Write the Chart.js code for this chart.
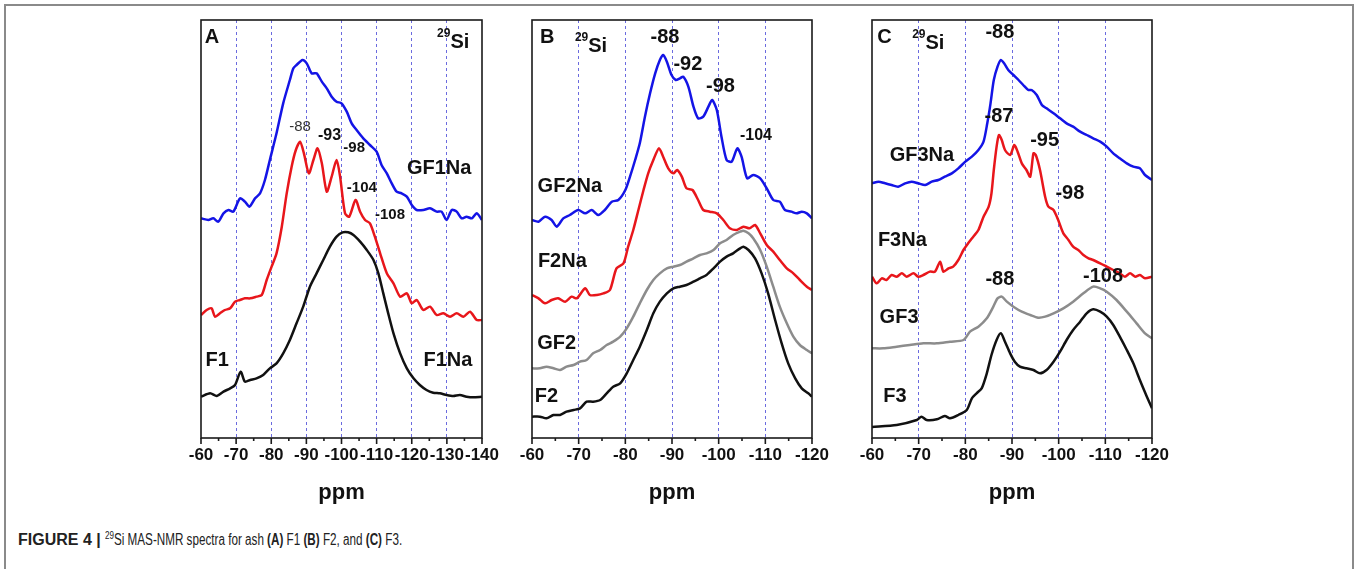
<!DOCTYPE html>
<html>
<head>
<meta charset="utf-8">
<script src="https://cdn.jsdelivr.net/npm/chart.js@4.4.0/dist/chart.umd.min.js"></script>
<style>
  body { margin: 0; background: #fff; width: 1359px; height: 569px; overflow: hidden; position: relative; font-family: "Liberation Sans", Arial, sans-serif; }
  .frame { position: absolute; left: 4px; top: 4px; width: 1346px; height: 620px; border: 2px solid #8a8a8a; }
  canvas { position: absolute; top: 0; }
  #chartA { left: 171px; }
  #chartB { left: 502px; }
  #chartC { left: 842px; }
  .caption { position: absolute; left: 18px; top: 531px; font-size: 16px; color: #222; white-space: nowrap; }
  .caption b { font-weight: bold; }
  .caption .rest { display: inline-block; transform: scaleX(0.73); transform-origin: left center; }
  .caption sup { font-size: 11px; vertical-align: 6px; line-height: 0; }
</style>
</head>
<body>
<div class="frame"></div>
<canvas id="chartA" width="341" height="520"></canvas>
<canvas id="chartB" width="340" height="520"></canvas>
<canvas id="chartC" width="340" height="520"></canvas>
<div class="caption"><b>FIGURE 4 |</b> <span class="rest"><sup>29</sup>Si MAS-NMR spectra for ash <b>(A)</b> F1 <b>(B)</b> F2, and <b>(C)</b> F3.</span></div>

<script>
// spectra: [ppm, intensity (a.u., curves stacked with offsets)]
const A_GF1Na = [[-60,659],[-62.1,654],[-63.5,659],[-64.9,649],[-66.4,674],[-67.8,684],[-69.2,679],[-71.1,719],[-72.5,709],[-73.8,694],[-75.4,719],[-76.8,734],[-78.2,774],[-79.6,834],[-81.5,914],[-83.4,1004],[-85.3,1074],[-86.3,1109],[-87.2,1119],[-88.9,1134],[-90.1,1124],[-91.5,1094],[-92.9,1094],[-94.4,1069],[-95.8,1049],[-97.2,1024],[-98.6,1009],[-100,1004],[-101.5,979],[-102.9,944],[-104.3,924],[-106.2,899],[-108.1,879],[-110,859],[-111.4,819],[-112.9,794],[-114.3,764],[-115.7,739],[-117.1,734],[-118.6,724],[-120,699],[-121.4,684],[-123.3,684],[-125.2,689],[-127.1,679],[-128.5,679],[-129.9,654],[-131.4,684],[-132.8,679],[-134.2,659],[-135.6,664],[-137.1,659],[-138.5,674],[-140,654]];
const A_F1Na = [[-60,369],[-61.6,384],[-63,389],[-64,364],[-65.4,374],[-66.8,384],[-68.3,389],[-69.7,409],[-71.1,414],[-72.5,419],[-74,419],[-75.8,424],[-77.3,429],[-78.7,474],[-80.1,514],[-81.5,554],[-83,634],[-84.4,734],[-85.8,814],[-87,864],[-88.2,889],[-89.3,854],[-90.7,794],[-92,834],[-93.2,869],[-94.4,824],[-95.8,739],[-97.2,784],[-98.6,834],[-99.6,784],[-101,674],[-102.2,664],[-104,714],[-105.3,679],[-106.7,654],[-108.1,644],[-109.5,604],[-111,554],[-112.9,494],[-114.8,464],[-116.7,424],[-118.6,434],[-120,404],[-121.4,414],[-123.3,384],[-125.2,394],[-127.1,369],[-129,374],[-130.9,364],[-132.8,374],[-134.7,364],[-136.6,379],[-138.5,354],[-140,354]];
const A_F1 = [[-60,124],[-62.6,134],[-64.5,126],[-66.4,139],[-68.3,149],[-69.7,159],[-71.3,199],[-72.5,169],[-74,174],[-75.8,179],[-77.7,189],[-79.6,209],[-81.5,224],[-83.4,254],[-85.3,294],[-87.2,344],[-89.1,394],[-91,454],[-92.9,494],[-94.8,534],[-96.7,574],[-98.6,604],[-100.3,617],[-101.9,617],[-103.4,609],[-105.3,589],[-107.2,564],[-109.1,534],[-110.5,494],[-111.9,434],[-113.3,374],[-114.8,314],[-116.7,254],[-118.6,209],[-120.5,179],[-122.3,159],[-124.2,144],[-126.1,136],[-128,134],[-129.9,129],[-131.8,126],[-133.7,129],[-135.6,124],[-137.5,122],[-140,124]];

const B_GF2Na = [[-60,654],[-61.4,649],[-62.8,664],[-64.2,654],[-65.3,634],[-66.7,659],[-68.1,669],[-69.9,684],[-71.4,674],[-72.8,684],[-74.2,669],[-75.6,684],[-77.1,709],[-78.5,714],[-80,744],[-81,784],[-82.1,834],[-83.1,884],[-84.2,964],[-85.3,1034],[-86.4,1094],[-87.4,1134],[-88.1,1149],[-88.9,1129],[-89.9,1089],[-90.8,1074],[-91.7,1079],[-92.4,1084],[-93.5,1054],[-94.6,994],[-95.6,959],[-96.7,964],[-97.8,994],[-98.6,1014],[-99.6,984],[-100.6,904],[-101.7,834],[-102.8,829],[-104,869],[-104.9,844],[-106.1,779],[-107.4,789],[-108.9,779],[-110.3,749],[-111.7,714],[-113.1,709],[-114.2,684],[-115.6,679],[-116.7,674],[-117.8,679],[-118.9,674],[-120,659]];
const B_F2Na = [[-60,429],[-61.4,419],[-62.8,404],[-64.2,414],[-65.6,419],[-67.1,409],[-68.5,424],[-69.6,419],[-71.4,449],[-72.4,429],[-73.9,429],[-75.3,434],[-76.7,444],[-78.1,509],[-79.6,524],[-80.6,574],[-81.7,624],[-82.8,684],[-83.9,744],[-84.9,794],[-86,834],[-87.2,869],[-88.1,844],[-89.2,809],[-90.3,794],[-91.1,804],[-92.1,784],[-93.1,749],[-94.4,744],[-95.6,714],[-96.7,684],[-98.1,679],[-99.6,674],[-101,654],[-102.4,629],[-103.9,624],[-105.3,634],[-106.6,629],[-107.8,639],[-108.9,614],[-110.3,579],[-111.7,559],[-113.1,534],[-114.6,509],[-116,494],[-117.4,474],[-118.9,454],[-120,444]];
const B_GF2 = [[-60,209],[-61.7,209],[-63.1,214],[-64.6,209],[-66,204],[-67.4,214],[-68.9,219],[-70.3,229],[-71.7,234],[-73.1,254],[-74.6,264],[-76,279],[-77.4,289],[-78.9,304],[-80.3,329],[-81.7,364],[-83.1,404],[-84.6,444],[-86,474],[-87.4,494],[-88.9,509],[-90.3,514],[-91.7,519],[-93.1,529],[-94.6,539],[-96,549],[-97.4,554],[-98.9,564],[-100.3,584],[-101.7,594],[-103.1,609],[-104.6,619],[-105.3,622],[-106.4,614],[-107.4,599],[-108.9,564],[-110.3,514],[-111.7,454],[-113.1,394],[-114.6,344],[-116,304],[-117.4,279],[-118.9,264],[-120,254]];
const B_F2 = [[-60,64],[-61.7,64],[-63.1,59],[-64.6,69],[-66,69],[-67.4,79],[-68.9,84],[-70.3,89],[-71.7,109],[-73.1,109],[-74.6,114],[-76,134],[-77.4,154],[-78.9,164],[-80.3,194],[-81.7,234],[-83.1,274],[-84.6,324],[-86,374],[-87.4,409],[-88.9,434],[-90.3,449],[-91.7,454],[-93.1,459],[-94.6,469],[-96,479],[-97.4,489],[-98.9,509],[-100.3,529],[-101.7,544],[-103.1,554],[-104.6,569],[-105.3,574],[-106.4,564],[-107.8,539],[-109.2,494],[-110.6,434],[-112.1,354],[-113.5,284],[-114.9,224],[-116.4,179],[-117.8,149],[-119.2,134],[-120,124]];

const C_GF3Na = [[-60,764],[-61.4,769],[-62.8,764],[-64.2,759],[-65.6,754],[-67.1,764],[-68.5,769],[-69.9,764],[-71.4,759],[-72.8,769],[-74.2,774],[-75.6,784],[-77.1,794],[-78.5,809],[-80,829],[-81.4,844],[-82.8,864],[-83.9,889],[-84.7,944],[-85.4,1004],[-86.1,1074],[-86.9,1114],[-87.6,1134],[-88.3,1124],[-89.2,1104],[-90.3,1089],[-91.4,1074],[-92.4,1059],[-93.5,1044],[-94.2,1044],[-95.3,1029],[-96.4,999],[-97.4,989],[-98.9,974],[-100.3,959],[-101.7,944],[-103.1,934],[-104.6,919],[-106,909],[-107.4,899],[-108.9,889],[-110.3,874],[-111.7,854],[-113.1,839],[-114.6,824],[-116,814],[-117.4,809],[-118.5,789],[-120,774]];
const C_F3Na = [[-60,484],[-61,464],[-62.1,479],[-63.1,474],[-64.2,489],[-65.3,484],[-66.4,494],[-67.4,484],[-68.9,494],[-69.9,484],[-71,489],[-72.4,499],[-73.5,499],[-74.6,529],[-75.3,499],[-76.4,509],[-77.4,514],[-78.5,534],[-79.6,564],[-80.6,584],[-81.7,604],[-82.8,624],[-83.9,664],[-85,694],[-85.6,734],[-86.1,804],[-86.7,874],[-87.2,909],[-87.8,894],[-88.5,864],[-89.6,849],[-90.5,879],[-91.2,859],[-92.1,824],[-93.1,804],[-93.9,784],[-94.6,854],[-95.1,849],[-96,804],[-97.1,724],[-97.8,694],[-98.9,684],[-99.9,654],[-101,614],[-102.1,594],[-103.1,574],[-104.2,564],[-105.3,549],[-106.4,539],[-107.4,534],[-108.9,524],[-110.3,514],[-111.7,504],[-113.1,494],[-114.2,484],[-115.3,494],[-116.4,484],[-117.4,489],[-118.5,479],[-120,484]];
const C_GF3 = [[-60,269],[-62.4,269],[-65.3,274],[-68.1,279],[-71,284],[-73.9,284],[-76.7,289],[-79.6,294],[-81,319],[-82.8,334],[-84.6,359],[-86,394],[-86.9,419],[-87.8,424],[-88.9,409],[-90.3,394],[-92.1,379],[-93.9,369],[-95.6,361],[-97.1,364],[-98.9,374],[-101,389],[-103.1,409],[-105.3,434],[-107.4,454],[-108.9,449],[-110.3,439],[-112.4,414],[-114.6,379],[-116.7,344],[-118.5,314],[-120,299]];
const C_F3 = [[-60,33],[-65.3,39],[-69.6,54],[-70.6,64],[-71.7,54],[-73.9,56],[-75.6,66],[-76.7,59],[-78.5,69],[-80.3,84],[-81.4,119],[-82.4,134],[-83.5,149],[-84.6,194],[-85.6,249],[-86.7,294],[-87.6,314],[-88.5,289],[-89.6,254],[-90.6,229],[-91.7,214],[-93.1,209],[-94.6,204],[-96,194],[-97.4,204],[-98.9,229],[-100.3,259],[-101.7,294],[-103.1,324],[-104.6,349],[-106,374],[-107.4,386],[-108.9,379],[-110.3,364],[-111.7,339],[-113.1,304],[-114.6,264],[-116,224],[-117.4,174],[-118.9,124],[-120,89]];

// axis ranges (ppm)
const A_range = [-140, -60];
const B_range = [-120, -60];
const C_range = [-120, -60];

const FONT = '"Liberation Sans", Arial, sans-serif';
Chart.defaults.font.family = FONT;

const BLUE = '#1414e6', RED = '#e8161b', GRAY = '#8c8c8c', BLACK = '#111';

// text drawn inside the plot boxes, placed in data coordinates
const A_text = [
  {text: 'A', x: -61.1, y: 1203, size: 20, align: 'left'},
  {text: 'Si', sup: '29', x: -127.2, y: 1188, size: 20, align: 'left'},
  {text: 'GF1Na', x: -127.8, y: 810, size: 20},
  {text: 'F1Na', x: -130.3, y: 234, size: 20},
  {text: 'F1', x: -64.6, y: 234, size: 20},
  {text: '-88', x: -88.2, y: 934, size: 15, bold: false, color: '#333'},
  {text: '-93', x: -96.6, y: 907, size: 16},
  {text: '-98', x: -103.6, y: 870, size: 15},
  {text: '-104', x: -105.8, y: 750, size: 15},
  {text: '-108', x: -113.8, y: 669, size: 15}
];
const B_text = [
  {text: 'B', x: -61.7, y: 1203, size: 20, align: 'left'},
  {text: 'Si', sup: '29', x: -69.2, y: 1176, size: 20, align: 'left'},
  {text: '-88', x: -88.5, y: 1202, size: 20},
  {text: '-92', x: -93.4, y: 1121, size: 20},
  {text: '-98', x: -100.4, y: 1056, size: 20},
  {text: '-104', x: -108, y: 907, size: 16},
  {text: 'GF2Na', x: -68.1, y: 754, size: 20},
  {text: 'F2Na', x: -66.5, y: 529, size: 20},
  {text: 'GF2', x: -65.3, y: 285, size: 20},
  {text: 'F2', x: -63.1, y: 126, size: 20}
];
const C_text = [
  {text: 'C', x: -61.1, y: 1203, size: 20, align: 'left'},
  {text: 'Si', sup: '29', x: -68.6, y: 1185, size: 20, align: 'left'},
  {text: '-88', x: -87.4, y: 1216, size: 20},
  {text: '-87', x: -87.2, y: 964, size: 20},
  {text: '-95', x: -97, y: 894, size: 20},
  {text: '-98', x: -102.4, y: 735, size: 20},
  {text: '-88', x: -87.4, y: 477, size: 20},
  {text: '-108', x: -109.5, y: 486, size: 20},
  {text: 'GF3Na', x: -70.7, y: 847, size: 20},
  {text: 'F3Na', x: -66.5, y: 594, size: 20},
  {text: 'GF3', x: -65.8, y: 361, size: 20},
  {text: 'F3', x: -64.9, y: 126, size: 20}
];

const panelDecor = {
  id: 'panelDecor',
  afterDatasetsDraw(chart, args, opts) {
    const {ctx, chartArea: a, scales: {x, y}} = chart;
    ctx.save();
    ctx.strokeStyle = '#1a1a1a';
    ctx.lineWidth = 1.6;
    ctx.strokeRect(a.left, a.top, a.right - a.left, a.bottom - a.top);
    x.ticks.forEach(t => {
      const px = x.getPixelForValue(t.value);
      const len = t.value % 10 === 0 ? 6 : 3;
      ctx.beginPath();
      ctx.moveTo(px, a.bottom);
      ctx.lineTo(px, a.bottom + len);
      ctx.stroke();
    });
    ctx.textBaseline = 'middle';
    (opts.items || []).forEach(it => {
      let px = x.getPixelForValue(it.x);
      const py = y.getPixelForValue(it.y);
      ctx.fillStyle = it.color || BLACK;
      ctx.textAlign = it.align || 'center';
      if (it.sup) {
        ctx.font = 'bold 12px ' + FONT;
        ctx.textAlign = 'left';
        ctx.fillText(it.sup, px, py - 8);
        px += ctx.measureText(it.sup).width;
      }
      ctx.font = (it.bold === false ? 'normal ' : 'bold ') + it.size + 'px ' + FONT;
      ctx.fillText(it.text, px, py);
    });
    ctx.restore();
  }
};

function series(points, color) {
  return {
    data: points.map(p => ({x: p[0], y: p[1]})),
    borderColor: color,
    borderWidth: 2.5,
    pointRadius: 0,
    tension: 0.25,
    fill: false
  };
}

function makePanel(id, range, datasets, items) {
  const lo = range[0], hi = range[1];
  return new Chart(document.getElementById(id), {
    type: 'line',
    data: {datasets: datasets},
    options: {
      responsive: false,
      animation: false,
      layout: {padding: {left: 30, right: 30, top: 20, bottom: 0}},
      plugins: {legend: {display: false}, tooltip: {enabled: false}, panelDecor: {items: items}},
      scales: {
        x: {
          type: 'linear',
          reverse: true,
          min: lo,
          max: hi,
          afterFit: s => { s.height = 82; },
          ticks: {
            stepSize: 5,
            autoSkip: false,
            maxRotation: 0,
            padding: 7,
            color: BLACK,
            font: {size: 17, weight: 'bold'},
            callback: v => (v % 10 === 0 ? String(v) : '')
          },
          grid: {
            drawTicks: false,
            lineWidth: 1,
            color: c => (c.tick && c.tick.value % 10 === 0 && c.tick.value !== lo && c.tick.value !== hi) ? 'rgba(70,70,215,0.8)' : 'rgba(0,0,0,0)'
          },
          border: {display: false, dash: [3, 3]},
          title: {display: true, text: 'ppm', color: BLACK, font: {size: 22, weight: 'bold'}, padding: {top: 0, bottom: 14}}
        },
        y: {display: false, min: 0, max: 1254}
      }
    },
    plugins: [panelDecor]
  });
}

makePanel('chartA', A_range, [series(A_GF1Na, BLUE), series(A_F1Na, RED), series(A_F1, BLACK)], A_text);
makePanel('chartB', B_range, [series(B_GF2Na, BLUE), series(B_F2Na, RED), series(B_GF2, GRAY), series(B_F2, BLACK)], B_text);
makePanel('chartC', C_range, [series(C_GF3Na, BLUE), series(C_F3Na, RED), series(C_GF3, GRAY), series(C_F3, BLACK)], C_text);
</script>
</body>
</html>
